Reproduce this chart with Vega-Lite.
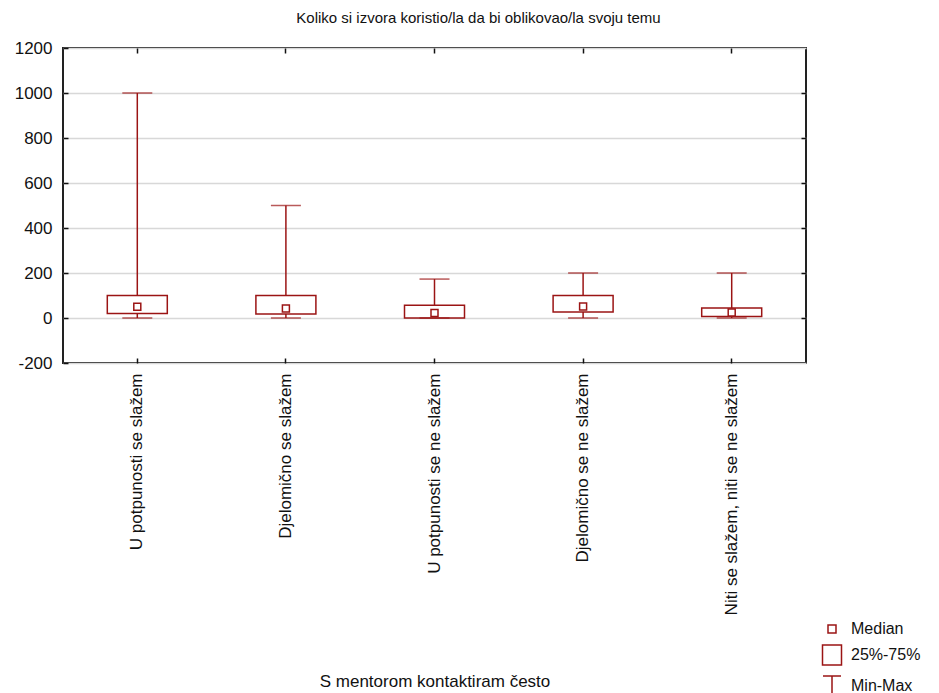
{
  "$schema": "https://vega.github.io/schema/vega-lite/v6.json",
  "width": 743,
  "height": 315,
  "autosize": "none",
  "padding": {"left": 63, "top": 48, "right": 133, "bottom": 330},
  "background": "white",
  "title": {"text": "Koliko si izvora koristio/la da bi oblikovao/la svoju temu", "fontSize": 15, "font": "Liberation Sans", "fontWeight": "normal", "color": "#111", "anchor": "middle", "frame": "group", "dx": 44, "offset": 13},
  "config": {
    "font": "Liberation Sans",
    "view": {"stroke": "#222", "strokeWidth": 2},
    "axis": {"labelFont": "Liberation Sans", "titleFont": "Liberation Sans", "labelColor": "#111", "titleColor": "#111", "domain": false, "tickColor": "#111", "tickWidth": 1.5}
  },
  "layer": [
    {
      "data": {"name": "stats", "values": [
        {"cat": "U potpunosti se slažem", "min": 0, "q1": 20, "med": 50, "q3": 100, "max": 1000},
        {"cat": "Djelomično se slažem", "min": 0, "q1": 18, "med": 42, "q3": 100, "max": 500},
        {"cat": "U potpunosti se ne slažem", "min": 0, "q1": 0, "med": 22, "q3": 57, "max": 173},
        {"cat": "Djelomično se ne slažem", "min": 0, "q1": 27, "med": 51, "q3": 100, "max": 200},
        {"cat": "Niti se slažem, niti se ne slažem", "min": 0, "q1": 7, "med": 24, "q3": 45, "max": 200}
      ]},
      "resolve": {"axis": {"x": "independent", "y": "independent"}},
      "layer": [
        {"mark": {"type": "rule", "color": "#9b1414", "strokeWidth": 1.5},
         "encoding": {
           "x": {"field": "cat", "type": "nominal", "sort": null,
             "scale": {"paddingInner": 0, "paddingOuter": 0},
             "axis": {"title": "S mentorom kontaktiram često", "titleFontSize": 17, "titleFontWeight": "normal", "titleY": 310, "titleBaseline": "top", "labelAngle": -90, "labelFontSize": 17, "labelPadding": 15, "tickSize": -5, "labelLimit": 400}},
           "y": {"field": "min", "type": "quantitative",
             "scale": {"domain": [-200, 1200], "nice": false, "zero": false},
             "axis": {"title": null, "values": [-200, 0, 200, 400, 600, 800, 1000, 1200], "labelExpr": "'' + datum.value", "labelFontSize": 17, "labelPadding": 16, "tickSize": -5, "grid": true, "gridColor": "#d8d8d8", "gridWidth": 1.5}},
           "y2": {"field": "max"}}},
        {"mark": {"type": "bar", "size": 60, "fill": "white", "stroke": "#9b1414", "strokeWidth": 1.5},
         "encoding": {
           "x": {"field": "cat", "type": "nominal", "sort": null,
             "axis": {"orient": "top", "title": null, "labels": false, "tickSize": -5, "grid": false}},
           "y": {"field": "q1", "type": "quantitative",
             "axis": {"orient": "right", "title": null, "labels": false, "values": [0, 200, 400, 600, 800, 1000], "tickSize": -5, "grid": false}},
           "y2": {"field": "q3"}}},
        {"mark": {"type": "tick", "size": 30, "thickness": 1.5, "color": "#9b1414"},
         "encoding": {
           "x": {"field": "cat", "type": "nominal", "sort": null, "axis": null},
           "y": {"field": "min", "type": "quantitative", "axis": null}}},
        {"mark": {"type": "tick", "size": 30, "thickness": 1.5, "color": "#9b1414"},
         "encoding": {
           "x": {"field": "cat", "type": "nominal", "sort": null, "axis": null},
           "y": {"field": "max", "type": "quantitative", "axis": null}}},
        {"mark": {"type": "square", "size": 49, "fill": "white", "stroke": "#9b1414", "strokeWidth": 1.5, "opacity": 1},
         "encoding": {
           "x": {"field": "cat", "type": "nominal", "sort": null, "axis": null},
           "y": {"field": "med", "type": "quantitative", "axis": null}}}
      ]
    },
    {
      "data": {"values": [{"item": "Median"}, {"item": "25%-75%"}, {"item": "Min-Max"}]},
      "mark": {"type": "point", "opacity": 0, "filled": false, "color": "#9b1414"},
      "encoding": {
        "shape": {"field": "item", "type": "nominal",
          "scale": {"domain": ["Median", "25%-75%", "Min-Max"], "range": ["M-0.4,-0.4H0.4V0.4H-0.4Z", "M-0.95,-1H0.95V1H-0.95Z", "M-0.9,-1H0.9M0,-1V1M-0.9,1H0.9"]},
          "legend": {"title": null, "orient": "none", "legendX": 758, "legendY": 570, "padding": 0, "symbolSize": 400, "symbolStrokeWidth": 1.5, "symbolStrokeColor": "#9b1414", "symbolFillColor": "transparent", "symbolOpacity": 1, "labelFontSize": 16, "labelColor": "#111", "labelOffset": 8, "rowPadding": 5}}
      }
    }
  ]
}
